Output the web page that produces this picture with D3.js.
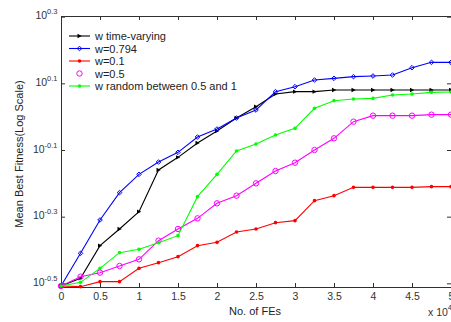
<!DOCTYPE html>
<html>
<head>
<meta charset="utf-8">
<script src="https://cdn.jsdelivr.net/npm/d3@7"></script>
<style>
body{margin:0;background:#fff}
text{font-family:"Liberation Sans",Arial,sans-serif}
</style>
</head>
<body>
<div id="chart-area"></div>
<script>
//Data: x = number of function evaluations, y = log10(mean best fitness)
var fes = [0,2500,5000,7500,10000,12500,15000,17500,20000,22500,25000,
           27500,30000,32500,35000,37500,40000,42500,45000,47500,50000]
var wTimeVarying = [-0.508,-0.485,-0.387,-0.337,-0.285,-0.160,-0.122,-0.079,-0.043,-0.004,0.030,
                    0.068,0.075,0.075,0.080,0.080,0.080,0.080,0.080,0.080,0.080]
var w0794 = [-0.508,-0.410,-0.310,-0.228,-0.173,-0.136,-0.107,-0.061,-0.037,-0.004,0.020,
             0.075,0.090,0.110,0.115,0.120,0.122,0.125,0.147,0.163,0.163]
var w01 = [-0.508,-0.510,-0.495,-0.495,-0.455,-0.438,-0.420,-0.387,-0.377,-0.346,-0.337,
           -0.318,-0.312,-0.252,-0.237,-0.212,-0.212,-0.212,-0.212,-0.210,-0.210]
var w05 = [-0.508,-0.480,-0.468,-0.448,-0.428,-0.372,-0.337,-0.305,-0.260,-0.237,-0.200,
           -0.163,-0.138,-0.100,-0.065,-0.015,0.003,0.003,0.003,0.006,0.006]
var wRandom = [-0.508,-0.497,-0.455,-0.408,-0.398,-0.378,-0.357,-0.240,-0.173,-0.103,-0.082,
               -0.055,-0.035,0.025,0.048,0.053,0.055,0.065,0.068,0.073,0.074]

var seriesNames = ["w time-varying","w=0.794","w=0.1","w=0.5","w random between 0.5 and 1"]
var seriesColors = ["#000000","#0000ff","#ff0000","#ff00ff","#00ff00"]
var seriesMarkers = ["triangle","diamond","dot","circle","dot"]
var seriesValues = [wTimeVarying,w0794,w01,w05,wRandom]

var xTicks = [0,5000,10000,15000,20000,25000,30000,35000,40000,45000,50000]
var yTicks = [-0.5,-0.3,-0.1,0.1,0.3]

//Set Margins, width and height variables
var margin = {top:16,bottom:35,left:61,right:0}
var width = 451 - margin.left - margin.right
var height = 322 - margin.top - margin.bottom

var svg = d3.select("#chart-area")
    .append("svg")
        .attr("width",451)
        .attr("height",322)

var canvas = svg.append("g")
    .attr("transform","translate(" + margin.left + "," + margin.top + ")")

//Scales
var x = d3.scaleLinear().domain([0,50000]).range([0,width])
var y = d3.scaleLinear().domain([-0.511,0.302]).range([height,0])

//Axes (ticks point inwards, like the original)
var axisColor = "#303030"
var xAxis = canvas.append("g")
    .attr("transform","translate(0," + height + ")")
    .call(d3.axisBottom(x).tickValues(xTicks).tickSize(-4).tickSizeOuter(0).tickPadding(6)
        .tickFormat((d)=>d/10000))
var topAxis = canvas.append("g")
    .call(d3.axisTop(x).tickValues(xTicks).tickSize(-4).tickSizeOuter(0).tickFormat(""))
var yAxis = canvas.append("g")
    .call(d3.axisLeft(y).tickValues(yTicks).tickSize(-4).tickSizeOuter(0).tickFormat(""))
var rightAxis = canvas.append("g")
    .attr("transform","translate(" + width + ",0)")
    .call(d3.axisRight(y).tickValues(yTicks).tickSize(-4).tickSizeOuter(0).tickFormat(""))

canvas.selectAll(".domain").attr("stroke",axisColor)
canvas.selectAll(".tick line").attr("stroke",axisColor)
xAxis.selectAll("text")
    .attr("font-size","10.5px")
    .attr("fill","#333")
    .attr("font-family","Liberation Sans, Arial, sans-serif")

//y tick labels as 10^e
var yLab = yAxis.selectAll(".tick").append("text")
    .attr("x",-3.5)
    .attr("y",2)
    .attr("text-anchor","end")
    .attr("fill","#333")
    .attr("font-size","10.5px")
yLab.append("tspan").text("10")
yLab.append("tspan")
    .attr("font-size","7.5px")
    .attr("dy","-5")
    .text((d)=>d.toFixed(1))

//Axis labels
svg.append("text")
    .attr("x",255)
    .attr("y",315)
    .attr("text-anchor","middle")
    .attr("font-size","11px")
    .attr("fill","#222")
    .text("No. of FEs")

svg.append("text")
    .attr("transform","translate(23,154) rotate(-90)")
    .attr("text-anchor","middle")
    .attr("font-size","11px")
    .attr("fill","#222")
    .text("Mean Best Fitness(Log Scale)")

var mult = svg.append("text")
    .attr("x",428)
    .attr("y",316)
    .attr("font-size","10.5px")
    .attr("fill","#333")
mult.append("tspan").text("x 10")
mult.append("tspan").attr("font-size","7.5px").attr("dy","-6").text("4")

//Marker drawing
const drawMarker = (sel,type,color)=>{
    if(type == "circle"){
        sel.append("circle").attr("r",2.7).attr("fill","none").attr("stroke",color).attr("stroke-width",1)
    } else if(type == "triangle"){
        sel.append("path").attr("d","M-2,-2.2L2.3,0L-2,2.2Z").attr("fill",color)
    } else if(type == "diamond"){
        sel.append("path").attr("d","M0,-2.3L2.3,0L0,2.3L-2.3,0Z").attr("fill","none").attr("stroke",color).attr("stroke-width",1)
    } else {
        sel.append("circle").attr("r",1.8).attr("fill",color)
    }
}

var line = d3.line()
    .x((d)=>x(d[0]))
    .y((d)=>y(d[1]))

seriesValues.forEach((vals,i)=>{
    var pts = fes.map((f,j)=>[f,vals[j]])
    var g = canvas.append("g")
    g.append("path")
        .datum(pts)
        .attr("d",line)
        .attr("fill","none")
        .attr("stroke",seriesColors[i])
        .attr("stroke-width",1.1)
    g.selectAll("g.mk")
        .data(pts)
        .enter()
        .append("g")
            .attr("class","mk")
            .attr("transform",(d)=>"translate(" + x(d[0]) + "," + y(d[1]) + ")")
            .each(function(){ drawMarker(d3.select(this),seriesMarkers[i],seriesColors[i]) })
})

//Legend (no box)
var legend = svg.append("g")
seriesNames.forEach((name,i)=>{
    var ly = 36 + i*12.5
    var item = legend.append("g").attr("transform","translate(0," + ly + ")")
    if(seriesMarkers[i] != "circle"){
        item.append("line")
            .attr("x1",69).attr("x2",90)
            .attr("stroke",seriesColors[i])
            .attr("stroke-width",1.1)
    }
    var m = item.append("g").attr("transform","translate(79.5,0)")
    drawMarker(m,seriesMarkers[i],seriesColors[i])
    item.append("text")
        .attr("x",95)
        .attr("y",4)
        .attr("font-size","11px")
        .attr("fill","#222")
        .text(name)
})
</script>
</body>
</html>
